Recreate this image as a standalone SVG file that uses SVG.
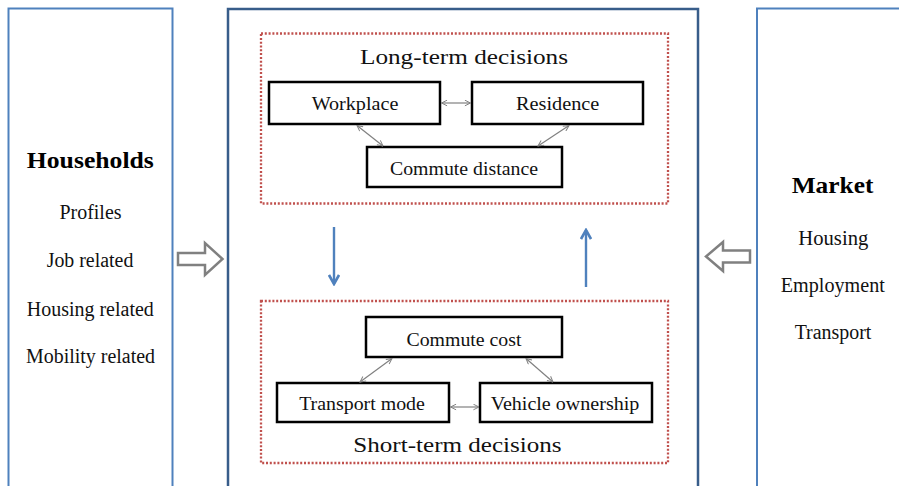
<svg xmlns="http://www.w3.org/2000/svg" width="899" height="486" viewBox="0 0 899 486">
<defs>
<style>
.side{fill:none;stroke:#4F81BD;stroke-width:2}
.mid{fill:none;stroke:#385D8A;stroke-width:2.5}
.dot{fill:none;stroke:#C0504D;stroke-width:2.3;stroke-dasharray:2 1.8}
.node{fill:#fff;stroke:#000;stroke-width:2.5}
.t{font-family:"Liberation Serif","Times New Roman",serif;fill:#111;text-anchor:middle}
.lbl{font-size:19px}
.lst{font-size:20px}
.hdr{font-size:23px;font-weight:bold;fill:#000}
.ttl{font-size:22px}
.bi{stroke:#808080;stroke-width:1.2;fill:none;marker-start:url(#ga);marker-end:url(#ga)}
.blue{stroke:#4F81BD;stroke-width:2.4;fill:none;marker-end:url(#ba)}
.block{fill:#fff;stroke:#808080;stroke-width:2.5;stroke-linejoin:miter}
</style>
<marker id="ga" viewBox="0 0 10 10" refX="9" refY="5" markerWidth="7" markerHeight="7" markerUnits="userSpaceOnUse" orient="auto-start-reverse">
<path d="M1,1 L9,5 L1,9" fill="none" stroke="#808080" stroke-width="1.4"/>
</marker>
<marker id="ba" viewBox="0 0 12 12" refX="10" refY="6" markerWidth="12" markerHeight="12" markerUnits="userSpaceOnUse" orient="auto">
<path d="M1,1 L10,6 L1,11" fill="none" stroke="#4F81BD" stroke-width="2.6"/>
</marker>
</defs>
<rect width="899" height="486" fill="#fff"/>

<g id="households">
<rect class="side" x="8.5" y="8.5" width="164" height="490"/>
<text class="t hdr" x="90.3" y="168" textLength="127" lengthAdjust="spacingAndGlyphs">Households</text>
<text class="t lst" x="90.5" y="219" textLength="62" lengthAdjust="spacingAndGlyphs">Profiles</text>
<text class="t lst" x="90" y="267" textLength="86.7" lengthAdjust="spacingAndGlyphs">Job related</text>
<text class="t lst" x="90.3" y="315.5" textLength="127" lengthAdjust="spacingAndGlyphs">Housing related</text>
<text class="t lst" x="90.5" y="363" textLength="129" lengthAdjust="spacingAndGlyphs">Mobility related</text>
</g>

<g id="decisions">
<rect class="mid" x="228" y="9" width="470" height="490"/>
</g>

<g id="market">
<rect class="side" x="757" y="8.5" width="160" height="490"/>
<text class="t hdr" x="832.5" y="193" textLength="81.7" lengthAdjust="spacingAndGlyphs">Market</text>
<text class="t lst" x="833.3" y="245" textLength="70" lengthAdjust="spacingAndGlyphs">Housing</text>
<text class="t lst" x="832.8" y="292" textLength="104" lengthAdjust="spacingAndGlyphs">Employment</text>
<text class="t lst" x="833" y="339" textLength="76.7" lengthAdjust="spacingAndGlyphs">Transport</text>
</g>

<g id="long-term">
<rect class="dot" x="261" y="33.5" width="407" height="170"/>
<text class="t ttl" x="464" y="64" textLength="208" lengthAdjust="spacingAndGlyphs">Long-term  decisions</text>
</g>

<g id="workplace">
<rect class="node" x="269" y="82" width="171" height="42"/>
<text class="t lbl" x="355" y="110" textLength="86.7" lengthAdjust="spacingAndGlyphs">Workplace</text>
</g>
<g id="residence">
<rect class="node" x="472" y="82" width="171" height="42"/>
<text class="t lbl" x="557.7" y="110" textLength="83.3" lengthAdjust="spacingAndGlyphs">Residence</text>
</g>
<g id="commute-distance">
<rect class="node" x="367" y="147" width="195" height="40"/>
<text class="t lbl" x="464" y="175" textLength="148" lengthAdjust="spacingAndGlyphs">Commute distance</text>
</g>

<g id="short-term">
<rect class="dot" x="261" y="301" width="407" height="162"/>
<text class="t ttl" x="457.5" y="452" textLength="208.3" lengthAdjust="spacingAndGlyphs">Short-term decisions</text>
</g>

<g id="commute-cost">
<rect class="node" x="366" y="317" width="196" height="40"/>
<text class="t lbl" x="464" y="346" textLength="115" lengthAdjust="spacingAndGlyphs">Commute cost</text>
</g>
<g id="transport-mode">
<rect class="node" x="277" y="383" width="172" height="39"/>
<text class="t lbl" x="362" y="410" textLength="125.7" lengthAdjust="spacingAndGlyphs">Transport mode</text>
</g>
<g id="vehicle-ownership">
<rect class="node" x="480" y="383" width="172" height="39"/>
<text class="t lbl" x="565" y="410" textLength="148.7" lengthAdjust="spacingAndGlyphs">Vehicle ownership</text>
</g>

<g id="connectors">
<line class="bi" x1="441.5" y1="103" x2="470.5" y2="103"/>
<line class="bi" x1="357" y1="125.5" x2="383" y2="146"/>
<line class="bi" x1="569" y1="125.5" x2="538" y2="146"/>
<line class="bi" x1="392" y1="358.5" x2="360" y2="382"/>
<line class="bi" x1="526" y1="358.5" x2="553" y2="382"/>
<line class="bi" x1="450.5" y1="407" x2="479" y2="407"/>
<line class="blue" x1="334" y1="227" x2="334" y2="284"/>
<line class="blue" x1="586" y1="287" x2="586" y2="230"/>
<polygon class="block" points="178,253 205,253 205,243 222.5,259 205,275 205,265 178,265"/>
<polygon class="block" points="750,250.5 723,250.5 723,242 706,256.5 723,271 723,262.5 750,262.5"/>
</g>
</svg>
